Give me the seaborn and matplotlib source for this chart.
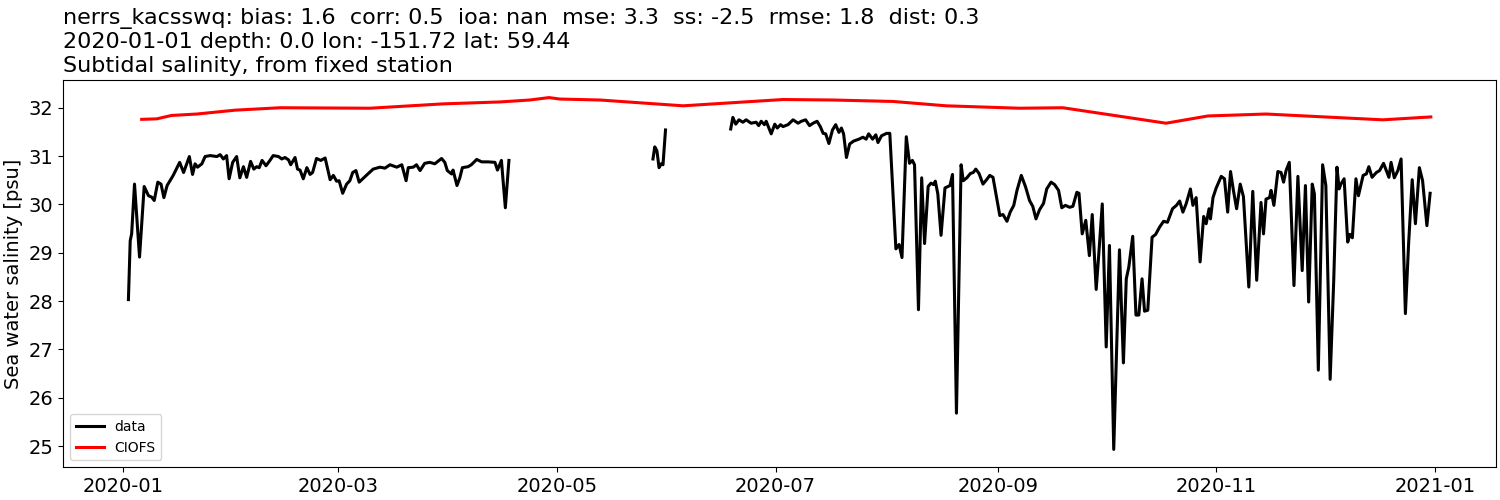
import numpy as np
import pandas as pd
import matplotlib
matplotlib.use("Agg")
import matplotlib.pyplot as plt
import matplotlib.dates as mdates
import seaborn as sns

# ---- data (day offset from 2020-01-01, salinity psu) ----
data_seg1 = [(1.4,28.03),(1.9,29.25),(2.3,29.39),(3.1,30.42),(4.5,28.91),(5.8,30.37),(7.0,30.18),(7.9,30.15),
    (8.6,30.08),(9.6,30.46),(10.5,30.42),(11.3,30.14),(12.2,30.39),(13.9,30.60),(15.7,30.87),(16.8,30.66),
    (18.4,30.99),(19.3,30.62),(20.0,30.84),(20.7,30.77),(21.9,30.84),(22.8,30.99),(24.2,31.01),(26.1,30.99),
    (27.0,31.03),(27.9,30.94),(28.8,31.01),(29.5,30.53),(30.5,30.87),(31.6,30.99),(32.5,30.55),(33.5,30.78),
    (34.4,30.56),(35.5,30.89),(36.4,30.73),(37.2,30.78),(37.9,30.76),(38.7,30.91),(39.8,30.80),(40.9,30.91),
    (41.8,31.01),(43.3,30.99),(44.2,30.94),(45.1,30.97),(46.1,30.92),(46.7,30.82),(47.9,30.97),(48.6,30.73),
    (49.3,30.71),(50.2,30.53),(51.2,30.76),(52.1,30.62),(52.8,30.66),(53.9,30.95),(55.1,30.91),(56.3,30.96),
    (57.7,30.51),(58.6,30.60),(59.5,30.48),(60.2,30.49),(61.2,30.23),(62.3,30.42),(63.2,30.49),(64.0,30.66),
    (64.9,30.70),(65.8,30.46),(67.8,30.60),(69.7,30.73),(71.6,30.77),(73.0,30.75),(74.4,30.82),(76.3,30.77),
    (77.7,30.82),(78.9,30.49),(79.5,30.76),(80.9,30.77),(81.8,30.82),(82.8,30.70),(84.1,30.85),(85.5,30.87),
    (86.9,30.84),(88.8,30.95),(89.7,30.87),(90.4,30.70),(91.6,30.63),(92.0,30.71),(93.1,30.39),(93.9,30.55),
    (94.6,30.76),(96.2,30.78),(97.1,30.82),(98.6,30.93),(100.0,30.88),(101.8,30.88),(103.7,30.87),(104.4,30.71),
    (105.5,30.91),(106.6,29.93),(107.6,30.91)]

data_seg2 = [(147.8,30.94),(148.3,31.19),(148.9,31.11),(149.5,30.76),(150.1,30.84),(150.6,30.82),(151.3,31.54)]

data_seg3 = [(169.5,31.56),(170.1,31.80),(170.9,31.66),(171.8,31.75),(172.9,31.70),(173.8,31.75),(175.2,31.68),
    (176.6,31.70),(177.3,31.63),(178.0,31.72),(178.9,31.65),(179.4,31.72),(180.8,31.46),(181.8,31.66),(182.5,31.58),
    (183.4,31.65),(184.1,31.61),(185.5,31.65),(186.9,31.75),(188.3,31.68),(189.2,31.72),(190.4,31.75),(191.5,31.63),
    (192.5,31.68),(193.6,31.72),(194.5,31.61),(195.3,31.47),(196.0,31.46),(196.9,31.26),(197.9,31.54),(198.8,31.65),
    (199.7,31.49),(200.4,31.58),(201.0,31.46),(201.8,30.97),(202.7,31.25),(203.8,31.31),(205.3,31.35),(206.4,31.39),
    (207.3,31.35),(208.0,31.46),(209.1,31.35),(210.0,31.44),(210.6,31.28),(211.6,31.42),(213.0,31.47),(213.9,31.47),
    (215.6,29.08),(216.5,29.17),(217.3,28.90),(218.5,31.40),(219.4,30.85),(220.2,30.91),(220.8,30.82),(221.9,27.82),
    (222.8,30.55),(223.6,29.19),(224.6,30.37),(225.4,30.44),(226.1,30.41),(226.6,30.48),(227.3,30.22),(228.2,29.36),
    (229.3,30.34),(230.1,30.37),(230.7,30.39),(231.4,30.62),(232.5,25.68),(233.8,30.82),(234.4,30.49),(235.4,30.55),
    (236.4,30.64),(237.2,30.66),(237.9,30.73),(238.8,30.64),(239.9,30.42),(240.9,30.51),(241.8,30.60),(242.7,30.56),
    (244.6,29.77),(245.5,29.79),(246.6,29.65),(247.5,29.84),(248.5,29.98),(249.4,30.29),(250.6,30.60),(251.8,30.36),
    (252.9,30.08),(253.8,29.96),(254.7,29.70),(255.7,29.89),(256.8,30.02),(257.7,30.32),(258.9,30.46),(259.9,30.41),
    (261.0,30.29),(261.9,29.93),(262.9,29.98),(264.1,29.94),(265.0,29.96),(266.1,30.25),(266.7,30.23),(267.6,29.39),
    (268.6,29.67),(269.6,28.94),(270.4,29.79),(271.5,28.24),(272.2,28.94),(273.2,30.01),(274.3,27.05),(275.2,29.15),
    (276.4,24.93),(278.0,29.06),(279.1,26.72),(279.9,28.46),(280.6,28.70),(281.7,29.34),(282.6,27.71),(283.4,27.71),
    (284.3,28.46),(285.0,27.79),(285.9,27.81),(287.1,29.32),(288.1,29.38),(289.2,29.53),(290.3,29.65),(291.4,29.63),
    (292.8,29.91),(293.9,29.98),(294.8,30.07),(295.7,29.84),(296.6,30.01),(297.8,30.32),(298.5,29.98),(299.4,30.14),
    (300.5,28.81),(301.5,29.75),(302.2,29.60),(303.0,29.91),(303.4,29.70),(304.1,30.14),(305.0,30.34),(306.4,30.58),
    (307.3,30.53),(308.2,29.84),(309.0,30.68),(309.8,30.29),(310.7,29.91),(311.7,30.42),(312.6,30.16),(314.1,28.29),
    (315.2,30.27),(316.3,28.43),(317.5,30.04),(318.2,29.39),(318.9,30.11),(319.9,30.14),(320.3,30.29),(321.1,29.98),
    (322.2,30.68),(323.1,30.66),(323.8,30.46),(324.5,30.70),(325.4,30.87),(326.7,28.32),(327.8,30.58),(329.0,28.63),
    (329.9,30.39),(330.8,27.98),(331.8,30.42),(332.4,30.22),(333.5,26.57),(334.7,30.82),(335.6,30.39),(336.8,26.38),
    (337.8,28.43),(338.7,30.77),(339.3,30.32),(339.8,30.42),(340.7,30.53),(341.7,29.22),(342.3,29.38),(343.0,29.31),
    (344.0,30.53),(344.7,30.18),(346.0,30.60),(346.9,30.63),(347.6,30.78),(348.5,30.56),(349.7,30.66),(350.6,30.70),
    (351.7,30.85),(353.2,30.56),(353.8,30.87),(354.7,30.55),(355.7,30.70),(356.6,30.94),(357.8,27.74),(358.7,29.19),
    (359.7,30.51),(360.6,29.60),(361.7,30.76),(362.6,30.49),(363.8,29.56),(364.7,30.23)]

model_ciofs = [(5.1,31.76),(9.3,31.77),(13.4,31.84),(20.5,31.87),(31.2,31.95),(43.8,32.00),(68.8,31.99),
    (89.2,32.08),(105.1,32.12),(113.4,32.16),(118.8,32.21),(121.8,32.18),(133.0,32.16),(156.2,32.04),
    (184.1,32.17),(198.0,32.16),(214.8,32.13),(229.6,32.04),(250.1,31.99),(262.2,32.00),(291.0,31.68),
    (302.7,31.83),(318.9,31.87),(351.5,31.75),(364.9,31.81)]

title_lines = [
    "nerrs_kacsswq: bias: 1.6  corr: 0.5  ioa: nan  mse: 3.3  ss: -2.5  rmse: 1.8  dist: 0.3",
    "2020-01-01 depth: 0.0 lon: -151.72 lat: 59.44",
    "Subtidal salinity, from fixed station",
]
ylabel = "Sea water salinity [psu]"

t0 = pd.Timestamp("2020-01-01")

def to_df(pairs):
    arr = np.array(pairs, dtype=float)
    return pd.DataFrame({"time": t0 + pd.to_timedelta(arr[:, 0], unit="D"), "value": arr[:, 1]})

fig = plt.figure(figsize=(15, 5), dpi=100)
ax = fig.add_axes([0.0422, 0.066, 0.9551, 0.774])

for i, seg in enumerate([data_seg1, data_seg2, data_seg3]):
    sns.lineplot(data=to_df(seg), x="time", y="value", ax=ax, color="black", linewidth=2.2,
                 label="data" if i == 0 else None, legend=False)
sns.lineplot(data=to_df(model_ciofs), x="time", y="value", ax=ax, color="red", linewidth=2.2,
             label="CIOFS", legend=False)

ax.xaxis.set_major_locator(mdates.MonthLocator(bymonth=[1, 3, 5, 7, 9, 11]))
ax.xaxis.set_major_formatter(mdates.DateFormatter("%Y-%m"))
ax.tick_params(labelsize=14)
ax.set_xlabel("")
ax.set_ylabel(ylabel, fontsize=14)
ax.set_title("\n".join(title_lines), loc="left", fontsize=16)
ax.legend(loc="lower left", fontsize=10)

fig.savefig("out.png", dpi=100)
